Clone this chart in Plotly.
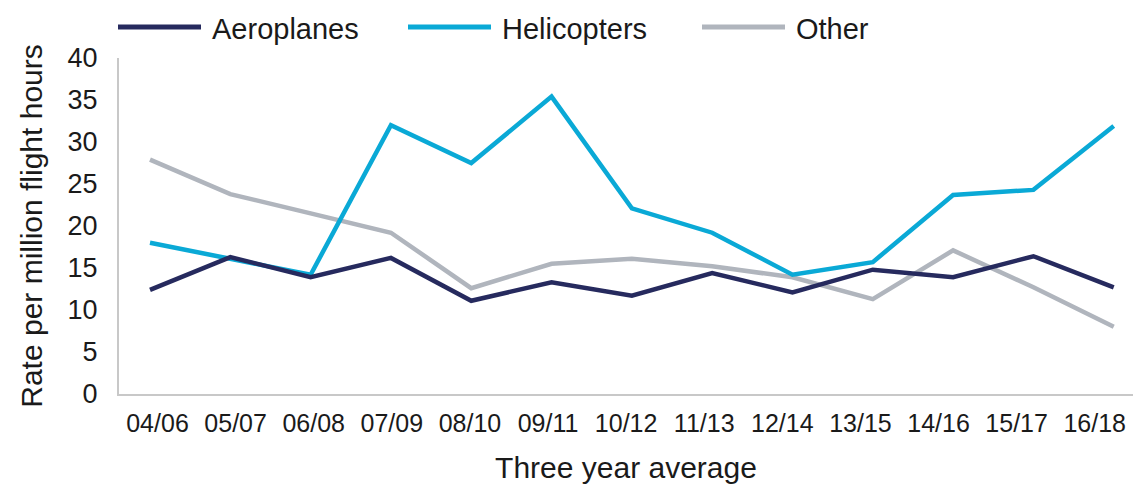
import plotly.graph_objects as go

periods = ["04/06", "05/07", "06/08", "07/09", "08/10", "09/11", "10/12",
           "11/13", "12/14", "13/15", "14/16", "15/17", "16/18"]
aeroplanes = [12.4, 16.3, 13.9, 16.2, 11.1, 13.3, 11.7, 14.4, 12.1, 14.8, 13.9, 16.4, 12.7]
helicopters = [18.0, 16.1, 14.2, 32.0, 27.5, 35.4, 22.1, 19.2, 14.2, 15.7, 23.7, 24.3, 31.9]
other = [27.9, 23.8, 21.5, 19.2, 12.6, 15.5, 16.1, 15.2, 13.9, 11.3, 17.1, 12.7, 8.0]

y_ticks = [0, 5, 10, 15, 20, 25, 30, 35, 40]

NAVY = "#262A5E"
CYAN = "#0AA9D6"
GREY = "#B0B5BD"
FONT = "Liberation Sans"
TEXT = "#1a1a1a"

W, H = 1133, 489
L, R, T, B = 119, 0, 58, 95
plot_w = W - L - R
plot_h = H - T - B

series = [("Aeroplanes", aeroplanes, NAVY),
          ("Helicopters", helicopters, CYAN),
          ("Other", other, GREY)]

fig = go.Figure()
# drawn bottom-up so the navy line sits on top
for name, vals, col in reversed(series):
    fig.add_trace(go.Scatter(
        x=list(range(len(periods))), y=vals, name=name, mode="lines",
        line=dict(color=col, width=4.5), showlegend=False,
        xaxis="x", yaxis="y",
    ))

# invisible carrier trace for the category labels axis
fig.add_trace(go.Scatter(
    x=list(range(len(periods))), y=[None] * len(periods),
    xaxis="x2", yaxis="y", showlegend=False, hoverinfo="skip",
))

# legend row: short line sample followed by the series name
legend_x = [118, 408, 702]
legend_y_px = 27
line_len = 83
shapes, annotations = [], []
ly = (H - B - legend_y_px) / plot_h
for (name, _, col), px in zip(series, legend_x):
    shapes.append(dict(
        type="line", xref="paper", yref="paper",
        x0=(px - L) / plot_w, x1=(px + line_len - L) / plot_w, y0=ly, y1=ly,
        line=dict(color=col, width=5),
    ))
    annotations.append(dict(
        text=name, xref="paper", yref="paper", showarrow=False,
        x=(px + line_len + 9 - L) / plot_w, y=ly - 2 / plot_h,
        xanchor="left", yanchor="middle",
        font=dict(family=FONT, size=29, color=TEXT),
    ))

fig.update_layout(
    width=W, height=H,
    margin=dict(l=L, r=R, t=T, b=B),
    paper_bgcolor="white", plot_bgcolor="white",
    font=dict(family=FONT, size=26, color=TEXT),
    showlegend=False,
    shapes=shapes, annotations=annotations,
    xaxis=dict(
        range=[-0.386, 12.24],
        showticklabels=False, showgrid=False, zeroline=False,
        showline=True, linecolor="#C8C8C8", linewidth=2, ticks="",
        title=dict(text="Three year average", standoff=62,
                   font=dict(family=FONT, size=30, color=TEXT)),
    ),
    xaxis2=dict(
        overlaying="x", side="bottom", anchor="y",
        range=[-0.493, 12.49],
        tickmode="array", tickvals=list(range(len(periods))), ticktext=periods,
        showgrid=False, zeroline=False, showline=False, ticks="",
        ticklabelstandoff=12,
        tickfont=dict(family=FONT, size=25, color=TEXT),
    ),
    yaxis=dict(
        range=[0, 40], tickvals=y_ticks,
        showgrid=False, zeroline=False,
        showline=True, linecolor="#C8C8C8", linewidth=2,
        ticks="", ticklabelstandoff=14,
        tickfont=dict(family=FONT, size=27, color=TEXT),
        title=dict(text="Rate per million flight hours", standoff=16,
                   font=dict(family=FONT, size=30, color=TEXT)),
    ),
)

fig.write_html("out.html")
